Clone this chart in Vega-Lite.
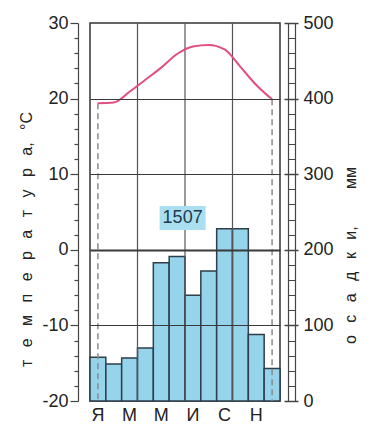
{
  "$schema": "https://vega.github.io/schema/vega-lite/v6.json",
  "width": 190,
  "height": 378,
  "autosize": {"type": "none"},
  "padding": {"left": 90, "top": 23, "right": 93, "bottom": 25},
  "background": "white",
  "config": {
    "view": {"stroke": "#333333", "strokeWidth": 1.5},
    "font": "Liberation Sans",
    "axis": {"labelFont": "Liberation Sans", "titleFont": "Liberation Sans", "labelColor": "#222222", "titleColor": "#222222", "titleFontWeight": "normal", "domainColor": "#444444", "tickColor": "#444444"}
  },
  "data": {"values": [
    {"m": 1, "p": 58, "t": 19.4},
    {"m": 2, "p": 49, "t": 19.5},
    {"m": 3, "p": 57, "t": 20.9},
    {"m": 4, "p": 70, "t": 22.5},
    {"m": 5, "p": 183, "t": 24.1},
    {"m": 6, "p": 191, "t": 25.9},
    {"m": 7, "p": 140, "t": 26.9},
    {"m": 8, "p": 172, "t": 27.1},
    {"m": 9, "p": 228, "t": 26.5},
    {"m": 10, "p": 228, "t": 24.2},
    {"m": 11, "p": 88, "t": 21.8},
    {"m": 12, "p": 43, "t": 19.9}
  ]},
  "layer": [
    {
      "mark": {"type": "bar", "fill": "#96d4ec", "stroke": "#2d3e4a", "strokeWidth": 1.5},
      "encoding": {
        "x": {"field": "m", "type": "ordinal", "scale": {"domain": [1,2,3,4,5,6,7,8,9,10,11,12], "paddingInner": 0, "paddingOuter": 0},
              "axis": {"title": null, "labelAngle": 0, "ticks": false, "domain": false, "grid": false, "labelFontSize": 18, "labelPadding": 5,
                       "labelExpr": "datum.value == 1 ? 'Я' : datum.value == 3 ? 'М' : datum.value == 5 ? 'М' : datum.value == 7 ? 'И' : datum.value == 9 ? 'С' : datum.value == 11 ? 'Н' : ''"}},
        "y": {"field": "p", "type": "quantitative", "scale": {"domain": [0, 500], "nice": false, "zero": true},
              "axis": {"orient": "right", "offset": 4, "values": [0,100,200,300,400,500], "tickSize": 14, "tickWidth": 1.5, "domain": false, "grid": false,
                       "labelFontSize": 18, "labelPadding": 5,
                       "title": "о\u2002 с\u2002 а\u2002 д\u2002 к\u2002 и,\u2002 \u2002 \u2002 мм", "titleFontSize": 16, "titleAngle": -90, "titleX": 66, "titleY": 232, "titleBaseline": "middle", "titleAlign": "center"}}
      }
    },
    {
      "mark": {"type": "bar", "opacity": 0},
      "encoding": {
        "x": {"field": "m", "type": "ordinal"},
        "y": {"field": "p", "type": "quantitative", "scale": {"domain": [0, 500], "nice": false, "zero": true},
              "axis": {"orient": "right", "offset": 8, "values": [0,20,40,60,80,100,120,140,160,180,200,220,240,260,280,300,320,340,360,380,400,420,440,460,480,500], "tickSize": 7, "tickWidth": 1, "domain": true, "domainWidth": 1.2, "labels": false, "grid": false, "title": null}}
      }
    },
    {
      "mark": {"type": "bar", "opacity": 0},
      "encoding": {
        "x": {"field": "m", "type": "ordinal"},
        "y": {"field": "p", "type": "quantitative", "scale": {"domain": [0, 500], "nice": false, "zero": true},
              "axis": {"orient": "right", "offset": 15, "ticks": false, "domain": true, "domainWidth": 1.2, "labels": false, "grid": false, "title": null}}
      }
    },
    {
      "data": {"values": [{"m": 4}, {"m": 7}, {"m": 10}]},
      "mark": {"type": "rule", "color": "#555555", "strokeWidth": 1.2},
      "encoding": {
        "x": {"field": "m", "type": "ordinal", "bandPosition": 0}
      }
    },
    {
      "transform": [{"filter": "datum.m == 1 || datum.m == 12"}],
      "mark": {"type": "rule", "color": "#8a8a8a", "strokeDash": [6, 4], "strokeWidth": 1.5},
      "encoding": {
        "x": {"field": "m", "type": "ordinal"},
        "y": {"field": "t", "type": "quantitative", "scale": {"domain": [-20, 30], "nice": false, "zero": false}, "axis": null},
        "y2": {"datum": -20}
      }
    },
    {
      "mark": {"type": "line", "color": "#e04f80", "strokeWidth": 2, "interpolate": "monotone"},
      "encoding": {
        "x": {"field": "m", "type": "ordinal"},
        "y": {"field": "t", "type": "quantitative", "scale": {"domain": [-20, 30], "nice": false, "zero": false},
              "axis": {"orient": "left", "offset": 12, "values": [-20,-18,-16,-14,-12,-10,-8,-6,-4,-2,0,2,4,6,8,10,12,14,16,18,20,22,24,26,28,30],
                       "labelExpr": "datum.value % 10 === 0 ? '' + datum.value : ''",
                       "tickSize": {"condition": {"test": "datum.value % 10 === 0", "value": 8}, "value": 4},
                       "tickWidth": 1.2, "domainWidth": 1.2,
                       "labelFontSize": 18, "labelPadding": 2,
                       "grid": true, "gridColor": "#3a3a3a",
                       "gridWidth": {"condition": {"test": "datum.value === 0", "value": 2}, "value": 1.2},
                       "gridOpacity": {"condition": {"test": "datum.value % 10 === 0 && datum.value > -20 && datum.value < 30", "value": 1}, "value": 0},
                       "zindex": 1,
                       "title": "т\u2002 е\u2002 м\u2002 п\u2002 е\u2002 р\u2002 а\u2002 т\u2002 у\u2002 р\u2002 а,\u2002 °C", "titleFontSize": 16, "titleAngle": -90, "titleX": -52, "titleY": 216, "titleBaseline": "middle", "titleAlign": "center"}}
      }
    },
    {
      "data": {"values": [{"total": 1507}]},
      "mark": {"type": "point", "shape": "M-1,-0.52H1V0.52H-1Z", "size": 2116, "filled": true, "fill": "#aadff0", "opacity": 1, "strokeWidth": 0},
      "encoding": {
        "x": {"datum": 6, "type": "ordinal", "bandPosition": 0.85},
        "y": {"datum": 4.2, "type": "quantitative", "scale": {"domain": [-20, 30], "nice": false, "zero": false}, "axis": null}
      }
    },
    {
      "data": {"values": [{"total": 1507}]},
      "mark": {"type": "text", "fontSize": 18, "color": "#1d3b4c", "font": "Liberation Sans"},
      "encoding": {
        "x": {"datum": 6, "type": "ordinal", "bandPosition": 0.85},
        "y": {"datum": 4.2, "type": "quantitative", "scale": {"domain": [-20, 30], "nice": false, "zero": false}, "axis": null},
        "text": {"field": "total", "type": "nominal"}
      }
    }
  ],
  "resolve": {"scale": {"y": "independent"}}
}
